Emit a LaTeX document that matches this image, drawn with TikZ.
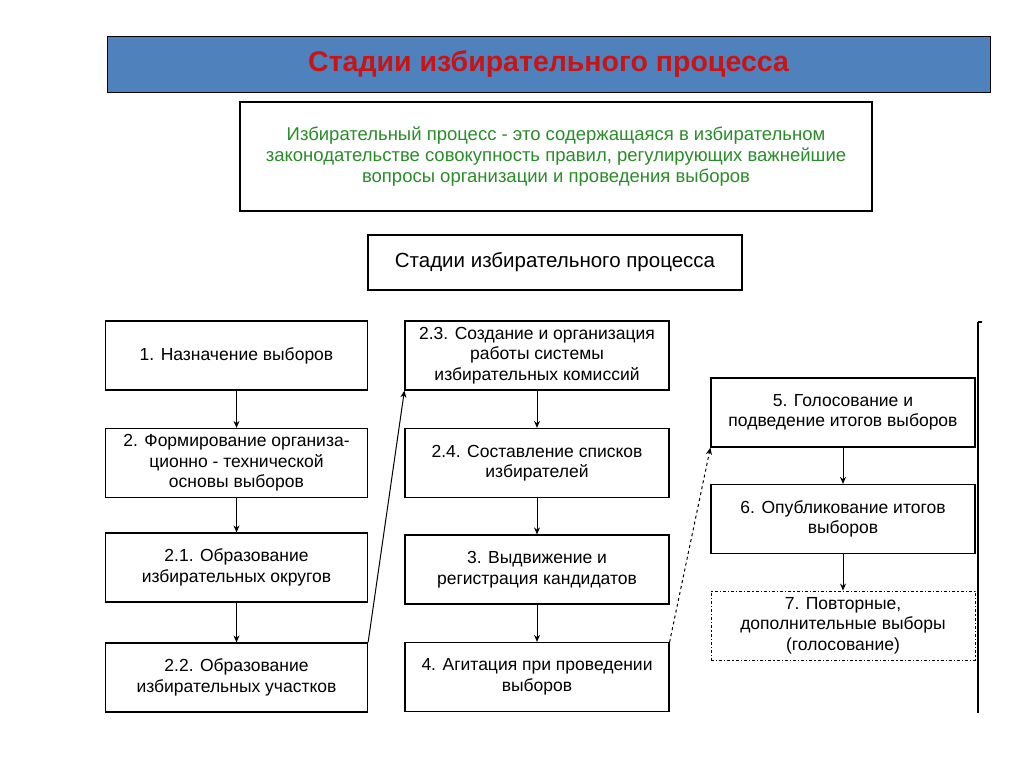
\documentclass[tikz,border=0pt]{standalone}
\usepackage{fontspec}
\setmainfont{Liberation Sans}
\usetikzlibrary{positioning,arrows.meta}
\definecolor{barblue}{RGB}{79,129,189}
\definecolor{titlered}{RGB}{200,20,20}
\definecolor{defgreen}{RGB}{40,140,40}
\begin{document}
\begin{tikzpicture}[x=1pt,y=-1pt]
\tikzstyle{stage}=[draw=black,line width=1.2pt,minimum width=262pt,minimum height=69pt,align=center,inner sep=1pt,font=\fontsize{17.5}{20.5}\selectfont]
\tikzstyle{flow}=[-{Stealth[length=7pt,width=6pt]},line width=1pt]
\useasboundingbox (0,0) rectangle (1024,767);
% header
\node[draw=black,fill=barblue,minimum width=883pt,minimum height=56pt,font=\fontsize{28.5}{32}\selectfont\bfseries,text=titlered](title) at (548.5,64) {Стадии избирательного процесса};
\node[draw=black,line width=1.2pt,minimum width=632pt,minimum height=109pt,align=center,text=defgreen,font=\fontsize{18.5}{21}\selectfont](def) at (556,156.5) {Избирательный процесс - это содержащаяся в избирательном\\законодательстве совокупность правил, регулирующих важнейшие\\вопросы организации и проведения выборов};
\node[draw=black,line width=1.2pt,minimum width=374pt,minimum height=55pt,font=\fontsize{20.5}{24}\selectfont](stages) at (555,262.5) {Стадии избирательного процесса};
% left column
\node[stage](s1) at (236.5,355.5) {1. Назначение выборов};
\node[stage](s2) at (236.5,463) {2. Формирование организа-\\ционно - технической\\основы выборов};
\node[stage](s21) at (236.5,567.5) {2.1. Образование\\избирательных округов};
\node[stage](s22) at (236.5,677.5) {2.2. Образование\\избирательных участков};
% middle column
\node[stage,minimum width=264pt](s23) at (537,355.5) {2.3. Создание и организация\\работы системы\\избирательных комиссий};
\node[stage,minimum width=264pt](s24) at (537,463) {2.4. Составление списков\\избирателей};
\node[stage,minimum width=264pt](s3) at (537,569.5) {3. Выдвижение и\\регистрация кандидатов};
\node[stage,minimum width=264pt](s4) at (537,677) {4. Агитация при проведении\\выборов};
% right column
\node[stage,minimum width=264pt](s5) at (843,412.5) {5. Голосование и\\подведение итогов выборов};
\node[stage,minimum width=264pt](s6) at (843,519) {6. Опубликование итогов\\выборов};
\node[stage,minimum width=264pt,dash dot,line width=0.9pt](s7) at (843,625.5) {7. Повторные,\\дополнительные выборы\\(голосование)};
% arrows
\draw[flow](s1)--(s2);
\draw[flow](s2)--(s21);
\draw[flow](s21)--(s22);
\draw[flow](s23)--(s24);
\draw[flow](s24)--(s3);
\draw[flow](s3)--(s4);
\draw[flow](s5)--(s6);
\draw[flow](s6)--(s7);
\draw[flow](s22.north east)--(s23.south west);
\draw[flow,dashed](s4.north east)--(s5.south west);
% right rule
\coordinate(rtop) at (978,322);
\coordinate(rbot) at (978,713);
\draw[line width=1.2pt](rtop)--(rbot);
\draw[line width=1.2pt](rtop)--++(4,0);
\end{tikzpicture}
\end{document}
